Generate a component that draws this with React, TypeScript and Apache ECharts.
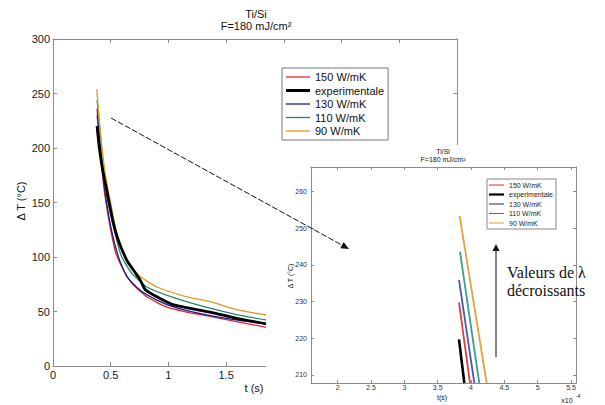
import React, { useEffect, useRef } from 'react';
import * as echarts from 'echarts';

// ---------- data (main chart, t in s, ΔT in °C) ----------
const seriesNames = ['150 W/mK', 'experimentale', '130 W/mK', '110 W/mK', '90 W/mK'];

const red150: number[][] = [
  [0.382, 230], [0.41, 196], [0.443, 162], [0.489, 131], [0.538, 106], [0.596, 91],
  [0.683, 76], [0.813, 63.5], [0.987, 54], [1.2, 48.5], [1.36, 45.5], [1.6, 40.5], [1.86, 35.3],
];
const blue130: number[][] = [
  [0.382, 236], [0.412, 200], [0.448, 162], [0.5, 128], [0.567, 100], [0.64, 82],
  [0.755, 69.5], [0.9, 60.5], [1.05, 54], [1.3, 47.5], [1.6, 42], [1.86, 38.5],
];
const teal110: number[][] = [
  [0.382, 244], [0.416, 205], [0.455, 162], [0.553, 115], [0.596, 100], [0.683, 85],
  [0.813, 72.5], [1.04, 63], [1.36, 53], [1.6, 47], [1.86, 42],
];
const orange90: number[][] = [
  [0.379, 254], [0.41, 215], [0.45, 178], [0.49, 155], [0.553, 122], [0.64, 95],
  [0.755, 82], [0.9, 72.5], [1.16, 63.5], [1.36, 59], [1.6, 51.5], [1.86, 46.5],
];
const experimental: number[][] = [
  [0.382, 220], [0.4, 201], [0.43, 180], [0.466, 161], [0.523, 131], [0.567, 115],
  [0.64, 97], [0.697, 88], [0.755, 79], [0.8, 70], [0.9, 63.5], [1.045, 56],
  [1.36, 49.5], [1.6, 43.5], [1.86, 38.5],
];

// ---------- data (inset, t in 1e-4 s) ----------
const insetRed150: number[][] = [[3.82, 229.7], [3.985, 207.8]];
const insetExp: number[][] = [[3.82, 219.7], [3.9, 207.8]];
const insetBlue130: number[][] = [[3.82, 235.9], [4.05, 207.8]];
const insetTeal110: number[][] = [[3.835, 243.6], [4.124, 207.8]];
const insetOrange90: number[][] = [[3.83, 253.3], [4.235, 207.8]];

const insetXTicks = [2, 2.5, 3, 3.5, 4, 4.5, 5, 5.5];
const insetYTicks = [210, 220, 230, 240, 250, 260];

const SANS = '"Liberation Sans", Arial, sans-serif';
const SERIF = '"Liberation Serif", "Times New Roman", serif';
const AXIS_GRAY = '#8c8c8c';

function arrowHead(x1: number, y1: number, x2: number, y2: number, len: number, half: number) {
  const dx = x2 - x1, dy = y2 - y1;
  const L = Math.sqrt(dx * dx + dy * dy);
  const ux = dx / L, uy = dy / L;
  const bx = x2 - ux * len, by = y2 - uy * len;
  const px = -uy, py = ux;
  return [[x2, y2], [bx + px * half, by + py * half], [bx - px * half, by - py * half]];
}

function txt(x: number, y: number, text: string, size: number, opts: any = {}) {
  return {
    type: 'text', x, y, z: opts.z ?? 35, rotation: opts.rotation ?? 0,
    style: {
      text, fontSize: size, fontFamily: opts.family ?? SANS, fill: opts.fill ?? '#111',
      align: opts.align ?? 'center', textAlign: opts.align ?? 'center',
      verticalAlign: 'middle', textVerticalAlign: 'middle',
    },
  };
}

function legendData(w: number, thin: number, thick: number) {
  return seriesNames.map((name) => ({
    name,
    icon: `path://M0,0H${w}V${name === 'experimentale' ? thick : thin}H0Z`,
  }));
}

export default function App() {
  const ref = useRef<HTMLDivElement>(null);
  useEffect(() => {
    document.body.style.margin = '0';
    const chart = echarts.init(ref.current!, null, { renderer: 'svg' });

    const mainLine = (name: string, data: number[][], color: string, width: number) => ({
      name, type: 'line', data, xAxisIndex: 0, yAxisIndex: 0, symbol: 'none', showSymbol: false,
      smooth: 0.2, z: 2, lineStyle: { color, width }, itemStyle: { color },
    });
    const insetLine = (name: string, data: number[][], color: string, width: number) => ({
      name, type: 'line', data, xAxisIndex: 2, yAxisIndex: 2, symbol: 'none', showSymbol: false,
      z: 31, clip: true, lineStyle: { color, width }, itemStyle: { color },
    });

    const diag = { x1: 111, y1: 118, x2: 349, y2: 249 };
    const vert = { x1: 496, y1: 357, x2: 496, y2: 244 };

    const option: any = {
      animation: false,
      backgroundColor: '#fff',
      grid: [
        { left: 53, top: 39, width: 404, height: 327 },
        { left: 311, top: 167, width: 265, height: 216, z: 30 },
      ],
      xAxis: [
        {
          type: 'value', gridIndex: 0, min: 0, max: 3.5, interval: 0.5, position: 'bottom',
          axisLine: { lineStyle: { color: AXIS_GRAY, width: 1 } },
          axisTick: { inside: true, length: 4, lineStyle: { color: AXIS_GRAY } },
          axisLabel: { fontSize: 11, fontFamily: SANS, color: '#1a1a1a', margin: 3 },
          splitLine: { show: false },
        },
        {
          type: 'value', gridIndex: 0, min: 0, max: 3.5, interval: 0.5, position: 'top',
          axisLine: { onZero: false, lineStyle: { color: AXIS_GRAY, width: 1 } },
          axisTick: { inside: true, length: 4, lineStyle: { color: AXIS_GRAY } },
          axisLabel: { show: false }, splitLine: { show: false },
        },
        {
          type: 'value', gridIndex: 1, min: 1.6, max: 5.575, position: 'bottom', z: 30,
          axisLine: { onZero: false, lineStyle: { color: AXIS_GRAY, width: 1 } },
          axisTick: { inside: true, length: 3, customValues: insetXTicks, lineStyle: { color: AXIS_GRAY } },
          axisLabel: { fontSize: 7, fontFamily: SANS, color: '#333', margin: 1, customValues: insetXTicks },
          splitLine: { show: false },
        },
        {
          type: 'value', gridIndex: 1, min: 1.6, max: 5.575, position: 'top', z: 30,
          axisLine: { onZero: false, lineStyle: { color: AXIS_GRAY, width: 1 } },
          axisTick: { inside: true, length: 3, customValues: insetXTicks, lineStyle: { color: AXIS_GRAY } },
          axisLabel: { show: false }, splitLine: { show: false },
        },
      ],
      yAxis: [
        {
          type: 'value', gridIndex: 0, min: 0, max: 300, interval: 50, position: 'left',
          axisLine: { show: true, onZero: false, lineStyle: { color: AXIS_GRAY, width: 1 } },
          axisTick: { show: true, inside: true, length: 4, lineStyle: { color: AXIS_GRAY } },
          axisLabel: { fontSize: 11, fontFamily: SANS, color: '#1a1a1a', margin: 3 },
          splitLine: { show: false },
        },
        {
          type: 'value', gridIndex: 0, min: 0, max: 300, interval: 50, position: 'right',
          axisLine: { show: true, onZero: false, lineStyle: { color: AXIS_GRAY, width: 1 } },
          axisTick: { show: true, inside: true, length: 4, lineStyle: { color: AXIS_GRAY } },
          axisLabel: { show: false }, splitLine: { show: false },
        },
        {
          type: 'value', gridIndex: 1, min: 207.8, max: 266.7, position: 'left', z: 30,
          axisLine: { show: true, onZero: false, lineStyle: { color: AXIS_GRAY, width: 1 } },
          axisTick: { show: true, inside: true, length: 3, customValues: insetYTicks, lineStyle: { color: AXIS_GRAY } },
          axisLabel: { fontSize: 7, fontFamily: SANS, color: '#333', margin: 4, customValues: insetYTicks },
          splitLine: { show: false },
        },
        {
          type: 'value', gridIndex: 1, min: 207.8, max: 266.7, position: 'right', z: 30,
          axisLine: { show: true, onZero: false, lineStyle: { color: AXIS_GRAY, width: 1 } },
          axisTick: { show: true, inside: true, length: 3, customValues: insetYTicks, lineStyle: { color: AXIS_GRAY } },
          axisLabel: { show: false }, splitLine: { show: false },
        },
      ],
      legend: [
        {
          data: legendData(24, 1.3, 3), orient: 'vertical', left: 282, top: 68, selectedMode: false,
          itemWidth: 24, itemHeight: 10, itemGap: 1.5, padding: [3, 4, 3, 4], symbolKeepAspect: true,
          backgroundColor: '#fff', borderColor: '#777', borderWidth: 1,
          textStyle: { fontSize: 11, lineHeight: 12, fontFamily: SANS, color: '#111' },
        },
        {
          data: legendData(15, 1, 2.2), orient: 'vertical', left: 487, top: 179, selectedMode: false, z: 35,
          itemWidth: 15, itemHeight: 6, itemGap: 1.5, padding: [2, 3, 2, 2], symbolKeepAspect: true,
          backgroundColor: '#fff', borderColor: '#888', borderWidth: 1,
          textStyle: { fontSize: 7, lineHeight: 8, fontFamily: SANS, color: '#222' },
        },
      ],
      series: [
        mainLine('150 W/mK', red150, '#e3262b', 1.3),
        mainLine('130 W/mK', blue130, '#1c1c8c', 1.3),
        mainLine('110 W/mK', teal110, '#21876a', 1.3),
        mainLine('90 W/mK', orange90, '#e39a1e', 1.3),
        mainLine('experimentale', experimental, '#000000', 2.8),
        insetLine('150 W/mK', insetRed150, '#e3393b', 1.8),
        insetLine('130 W/mK', insetBlue130, '#4a58b0', 1.8),
        insetLine('110 W/mK', insetTeal110, '#3aa08a', 1.8),
        insetLine('90 W/mK', insetOrange90, '#e8a040', 1.8),
        insetLine('experimentale', insetExp, '#000000', 2.6),
      ],
      graphic: {
        elements: [
          { type: 'rect', z: 20, shape: { x: 266, y: 145, width: 339, height: 260 }, style: { fill: '#fff' } },
          txt(256, 14, 'Ti/Si', 11, { z: 10 }),
          txt(256, 26, 'F=180 mJ/cm²', 11, { z: 10 }),
          txt(21, 201, 'Δ T (°C)', 11, { z: 10, rotation: Math.PI / 2 }),
          txt(254, 388, 't (s)', 11, { z: 10 }),
          txt(443, 151, 'Ti/Si', 7),
          txt(443, 159, 'F=180 mJ/cm²', 7),
          txt(290, 276, 'Δ T (°C)', 7, { rotation: Math.PI / 2 }),
          txt(442, 397, 't(s)', 7),
          txt(567, 400, 'x10', 7),
          txt(578, 396, '-4', 5),
          {
            type: 'line', z: 50,
            shape: { x1: diag.x1, y1: diag.y1, x2: diag.x2 - 5, y2: diag.y2 - 2.8 },
            style: { stroke: '#111', lineWidth: 1, lineDash: [6, 2] },
          },
          {
            type: 'polygon', z: 50,
            shape: { points: arrowHead(diag.x1, diag.y1, diag.x2, diag.y2, 8, 3.5) },
            style: { fill: '#111' },
          },
          {
            type: 'line', z: 50,
            shape: { x1: vert.x1, y1: vert.y1, x2: vert.x2, y2: vert.y2 + 5 },
            style: { stroke: '#333', lineWidth: 1.2 },
          },
          {
            type: 'polygon', z: 50,
            shape: { points: arrowHead(vert.x1, vert.y1, vert.x2, vert.y2, 7, 3.5) },
            style: { fill: '#111' },
          },
          txt(507, 272, 'Valeurs de λ', 16, { z: 50, align: 'left', family: SERIF }),
          txt(507, 290, 'décroissants', 16, { z: 50, align: 'left', family: SERIF }),
        ],
      },
    };

    chart.setOption(option);
    return () => chart.dispose();
  }, []);
  return (
    <div
      ref={ref}
      style={{ width: 605, height: 405, position: 'absolute', left: 0, top: 0, background: '#fff' }}
    />
  );
}
